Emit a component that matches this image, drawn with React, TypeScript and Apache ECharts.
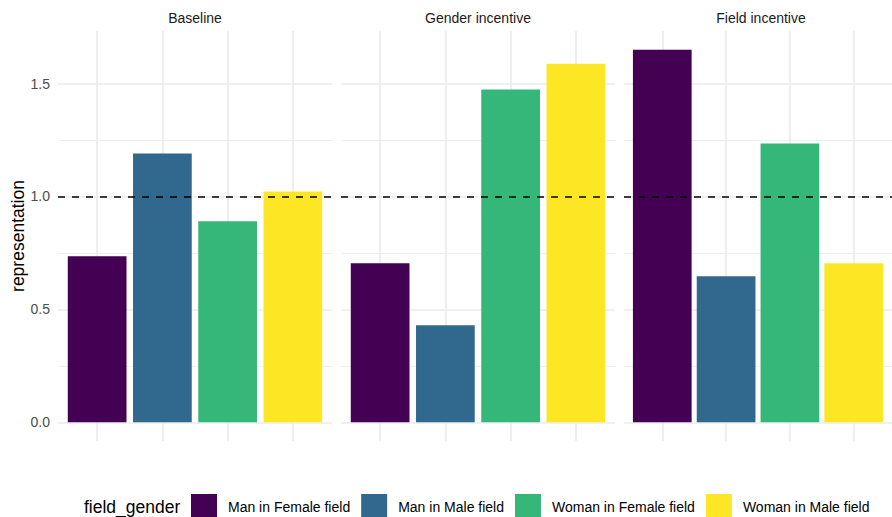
import React, { useEffect, useRef } from "react";
import * as echarts from "echarts";

// ---- data ----
const panels = ["Baseline", "Gender incentive", "Field incentive"];
const groups = [
  "Man in Female field",
  "Man in Male field",
  "Woman in Female field",
  "Woman in Male field",
];
const baseline = [0.735, 1.19, 0.89, 1.022];
const genderIncentive = [0.704, 0.43, 1.473, 1.588];
const fieldIncentive = [1.65, 0.647, 1.235, 0.704];
const yTicks = [0, 0.5, 1.0, 1.5];
const yMinorTicks = [0.25, 0.75, 1.25];
const referenceLevel = 1;
const legendTitle = "field_gender";
const yTitle = "representation";

const colors = ["#440154", "#31688E", "#35B779", "#FDE725"];
const values = [baseline, genderIncentive, fieldIncentive];

// ---- layout ----
const W = 892;
const H = 517;
const PANEL_LEFT = [58, 341, 624];
const PANEL_W = 274;
const PANEL_TOP = 31;
const PANEL_H = 410;
const FONT = '"Liberation Sans", Arial, Helvetica, sans-serif';
const GRID_COLOR = "#EBEBEB";

export default function App() {
  const ref = useRef<HTMLDivElement>(null);

  useEffect(() => {
    if (!ref.current) return;
    const chart = echarts.init(ref.current, null, { renderer: "svg" });

    const dataMax = Math.max(...values.flat());
    const yMin = -0.05 * dataMax;
    const yMax = 1.05 * dataMax;
    const xMin = 1 - 0.6;
    const xMax = groups.length + 0.6;
    const barWidth = (0.9 * PANEL_W) / (xMax - xMin);

    const grid = PANEL_LEFT.map((l) => ({
      left: l,
      top: PANEL_TOP,
      width: PANEL_W,
      height: PANEL_H,
      containLabel: false,
    }));

    const xAxis = panels.map((_, i) => ({
      type: "value",
      gridIndex: i,
      min: xMin,
      max: xMax,
      axisLine: { show: false },
      axisTick: { show: false, customValues: groups.map((_, j) => j + 1) },
      axisLabel: { show: false },
      splitLine: { show: true, lineStyle: { color: GRID_COLOR, width: 1.7 } },
    }));

    const yAxis: any[] = [];
    panels.forEach((_, i) => {
      yAxis.push({
        type: "value",
        gridIndex: i,
        min: yMin,
        max: yMax,
        position: "left",
        axisLine: { show: false },
        axisTick: { show: false, customValues: yTicks },
        axisLabel: {
          show: i === 0,
          customValues: yTicks,
          formatter: (v: number) => v.toFixed(1),
          color: "#4D4D4D",
          fontSize: 14,
          fontFamily: FONT,
          margin: 8,
        },
        splitLine: { show: true, lineStyle: { color: GRID_COLOR, width: 1.7 } },
        name: i === 0 ? yTitle : "",
        nameLocation: "middle",
        nameGap: 31,
        nameTextStyle: { fontSize: 17.5, color: "#000", fontFamily: FONT },
      });
      yAxis.push({
        type: "value",
        gridIndex: i,
        min: yMin,
        max: yMax,
        position: "right",
        axisLine: { show: false },
        axisTick: { show: false, customValues: yMinorTicks },
        axisLabel: { show: false },
        splitLine: { show: true, lineStyle: { color: GRID_COLOR, width: 0.85 } },
      });
    });

    const series: any[] = [];
    panels.forEach((_, i) => {
      groups.forEach((g, j) => {
        series.push({
          type: "bar",
          name: g,
          xAxisIndex: i,
          yAxisIndex: 2 * i,
          data: [[j + 1, values[i][j]]],
          barWidth,
          barGap: "-100%",
          itemStyle: { color: colors[j] },
          z: 2,
        });
      });
    });
    panels.forEach((_, i) => {
      series.push({
        type: "line",
        name: "reference",
        xAxisIndex: i,
        yAxisIndex: 2 * i,
        data: [],
        z: 20,
        zlevel: 1,
        markLine: {
          silent: true,
          symbol: ["none", "none"],
          label: { show: false },
          lineStyle: { color: "#000", type: [7, 7], width: 1.7 },
          data: [{ yAxis: referenceLevel }],
          z: 20,
          zlevel: 1,
        },
      });
    });

    const graphic: any[] = panels.map((p, i) => ({
      type: "text",
      x: PANEL_LEFT[i] + PANEL_W / 2,
      y: 17.5,
      style: {
        text: p,
        fill: "#1A1A1A",
        font: `14px ${FONT}`,
        align: "center",
        verticalAlign: "middle",
        textAlign: "center",
        textVerticalAlign: "middle",
      },
    }));
    graphic.push({
      type: "text",
      x: 84,
      y: 507,
      style: {
        text: legendTitle,
        fill: "#000",
        font: `17.5px ${FONT}`,
        align: "left",
        verticalAlign: "middle",
        textAlign: "left",
        textVerticalAlign: "middle",
      },
    });

    chart.setOption({
      animation: false,
      backgroundColor: "#fff",
      textStyle: { fontFamily: FONT },
      grid,
      xAxis,
      yAxis,
      series,
      graphic,
      legend: {
        data: groups,
        left: 191,
        top: 494,
        padding: 0,
        itemWidth: 26,
        itemHeight: 26,
        itemGap: 11,
        icon: "rect",
        selectedMode: false,
        textStyle: {
          fontSize: 14,
          color: "#000",
          fontFamily: FONT,
          padding: [0, 0, 0, 6],
        },
      },
    });

    return () => chart.dispose();
  }, []);

  return (
    <div
      ref={ref}
      style={{ position: "fixed", left: 0, top: 0, width: W, height: H }}
    />
  );
}
